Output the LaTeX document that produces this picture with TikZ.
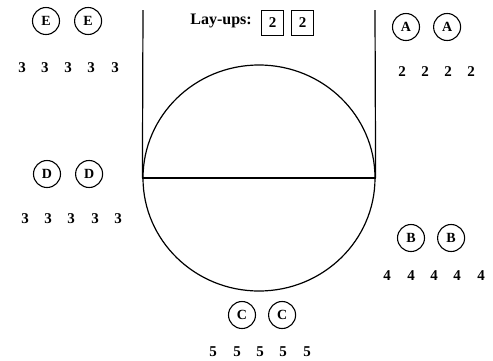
\documentclass[tikz,border=0pt]{standalone}
\usepackage{fontspec}
\setmainfont{Liberation Serif}
\usetikzlibrary{positioning,shapes.geometric}
\tikzset{
  player/.style={circle, draw, line width=1.1pt, minimum size=27pt, inner sep=0pt, font=\bfseries\fontsize{14}{14}\selectfont},
  spot/.style={inner sep=0pt, font=\bfseries\fontsize{15}{15}\selectfont},
  tally/.style={draw, line width=1.2pt, minimum width=22pt, minimum height=25pt, inner sep=0pt, font=\bfseries\fontsize{15}{15}\selectfont},
  court/.style={line width=1.2pt},
}
\begin{document}
\begin{tikzpicture}[x=1pt, y=-1pt, node distance=14pt]
\useasboundingbox (0,0) rectangle (493,360);
% lane and circle
\node[ellipse, draw, court, minimum width=232pt, minimum height=226pt, inner sep=0pt] (key) at (259,178) {};
\coordinate (lt) at (143,10);
\coordinate (rt) at (375,10);
\draw[court] (key.west) -- (key.east);
\draw[court] (key.west) -- (lt);
\draw[court] (key.east) -- (rt);
% lay-ups
\node[anchor=base east, inner sep=0pt, font=\bfseries\fontsize{16}{16}\selectfont] (lbl) at (252,24) {Lay-ups:};
\node[tally] (lay1) at (272.5,23) {2};
\node[tally, right=7pt of lay1] (lay2) {2};
% players
\node[player] (e1) at (46,21) {E};
\node[player, right=14pt of e1] (e2) {E};
\node[player] (d1) at (47,174) {D};
\node[player, right=14pt of d1] (d2) {D};
\node[player] (a1) at (406,27) {A};
\node[player, right=13pt of a1] (a2) {A};
\node[player] (b1) at (411,238) {B};
\node[player, right=12pt of b1] (b2) {B};
\node[player] (c1) at (242,315) {C};
\node[player, right=12pt of c1] (c2) {C};
% spots
\foreach \x [count=\i] in {22,45,68,91,115} \node[spot] (eSpot\i) at (\x,68) {3};
\foreach \x [count=\i] in {25,48,71,95,118} \node[spot] (dSpot\i) at (\x,219) {3};
\foreach \x [count=\i] in {402,425,448,471} \node[spot] (aSpot\i) at (\x,72) {2};
\foreach \x [count=\i] in {387,411,434,457,481} \node[spot] (bSpot\i) at (\x,276) {4};
\foreach \x [count=\i] in {213,237,260,283,307} \node[spot] (cSpot\i) at (\x,352) {5};
\end{tikzpicture}
\end{document}
